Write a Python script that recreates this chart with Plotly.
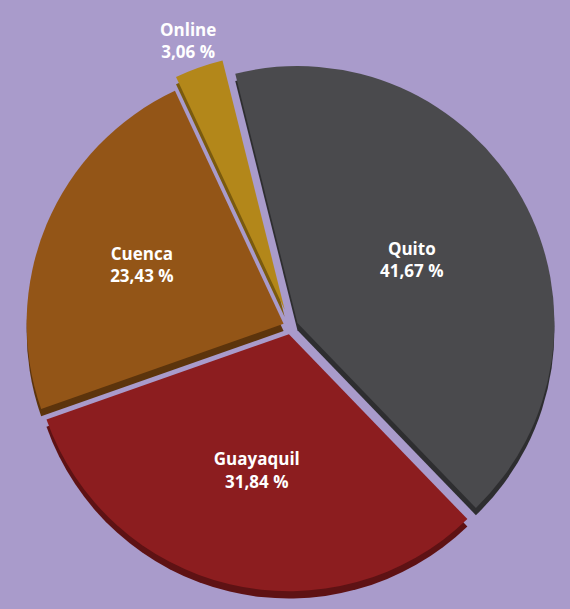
import plotly.graph_objects as go

labels = ["Quito", "Guayaquil", "Cuenca", "Online"]
values = [41.67, 31.84, 23.43, 3.06]
colors = ["#4a4a4d", "#8c1d1f", "#935517", "#b3871a"]
side_colors = ["#2e2e30", "#5e1214", "#5c340c", "#7a5a0e"]
pulls = [0.03, 0.03, 0.03, 0.07]
text_pos = ["inside", "inside", "inside", "none"]

texts = [f"{l}<br>{str(f'{v:.2f}').replace('.', ',')} %" for l, v in zip(labels, values)]
font = dict(family="Open Sans", size=17, color="white", weight="bold")

fig = go.Figure()
# thickness (3D side) layer
fig.add_trace(go.Pie(
    labels=labels, values=values, sort=False, direction="clockwise", rotation=-14,
    pull=pulls, marker=dict(colors=side_colors, line=dict(width=0)),
    textinfo="none", hoverinfo="skip", showlegend=False,
    domain=dict(x=[0.02, 1], y=[0.0, 0.903]),
))
fig.add_trace(go.Pie(
    labels=labels, values=values, sort=False, direction="clockwise", rotation=-14,
    pull=pulls, marker=dict(colors=colors, line=dict(width=0)),
    text=texts, textinfo="text", textposition=text_pos,
    insidetextorientation="horizontal",
    textfont=font,
    showlegend=False,
    domain=dict(x=[0.02, 1], y=[0.012, 0.915]),
))
# label of the small slice, placed outside above it
fig.add_annotation(
    text=texts[3], x=0.33, y=1 - 40 / 609, xref="paper", yref="paper",
    xanchor="center", yanchor="middle",
    showarrow=False, font=font, align="center",
)
fig.update_layout(
    width=570, height=609,
    margin=dict(l=0, r=0, t=0, b=0),
    paper_bgcolor="#a99bcb",
    plot_bgcolor="#a99bcb",
)
fig.write_html(
    "out.html",
    config={"displayModeBar": False},
    post_script="document.body.style.margin='0';document.body.style.background='#a99bcb';",
)
